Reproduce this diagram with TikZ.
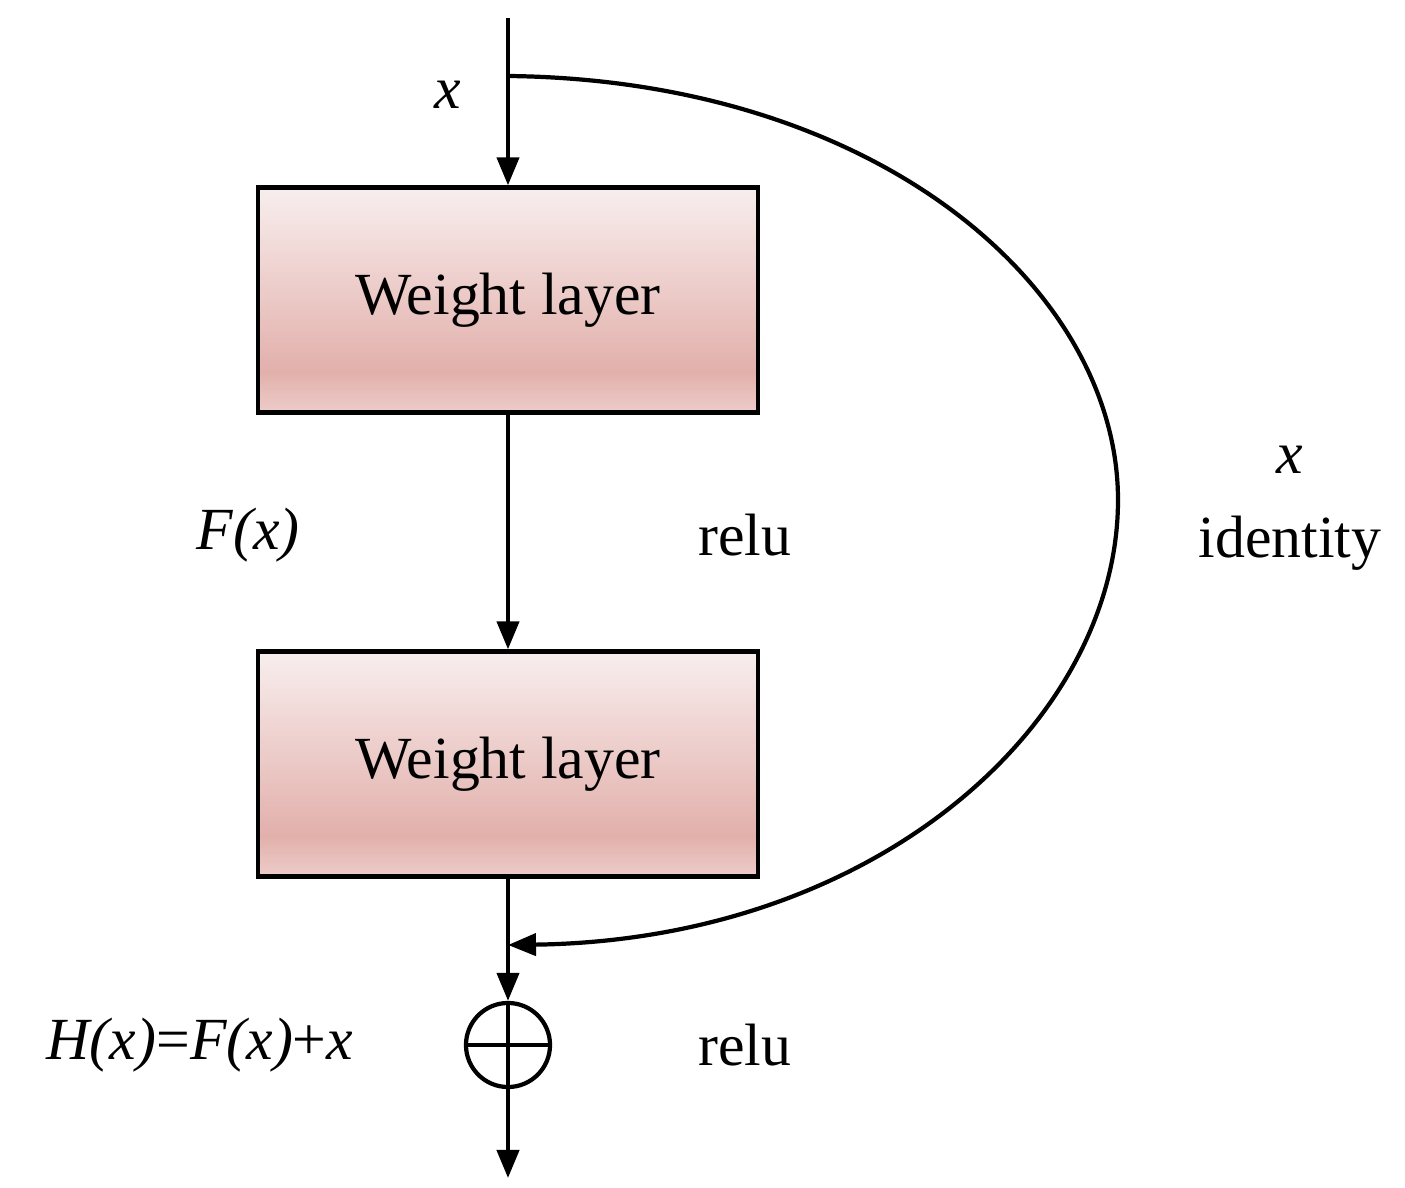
\documentclass[tikz,border=0pt]{standalone}
\usepackage{fontspec}
\setmainfont{Liberation Serif}
\usetikzlibrary{arrows.meta}
\definecolor{cA}{HTML}{EDCDCA}
\definecolor{cB}{HTML}{E2B0AB}
\definecolor{cC}{HTML}{F8EEEE}
\pgfdeclareverticalshading{wl}{100bp}{color(0bp)=(cA); color(25bp)=(cA); color(34bp)=(cB); color(75bp)=(cC); color(100bp)=(cC)}
\begin{document}
\begin{tikzpicture}[x=0.01cm,y=-0.01cm,
  box/.style={draw,line width=1.2pt,minimum width=4.99cm,minimum height=2.25cm,shading=wl,font=\fontsize{17}{20}\selectfont,inner sep=0pt},
  lab/.style={font=\fontsize{17}{20}\selectfont,inner sep=0pt},
  arr/.style={line width=1.2pt,-{Triangle[length=0.28cm,width=0.22cm]}},
  ln/.style={line width=1.2pt}]
\useasboundingbox (0,0) rectangle (1405,1188);
\node[box] (b1) at (508,300) {Weight layer};
\node[box] (b2) at (508,764) {Weight layer};
\node[draw,circle,line width=1.2pt,minimum size=0.84cm,inner sep=0pt] (s) at (508,1045) {};
\draw[ln] (s.north)--(s.south) (s.west)--(s.east);
\coordinate (top) at (508,18);
\coordinate (bot) at (508,1178);
\coordinate (sk) at (508,76);
\coordinate (m) at (508,945);
\draw[arr] (top)--(b1.north);
\draw[arr] (b1.south)--(b2.north);
\draw[arr] (b2.south)--(s.north);
\draw[arr] (s.south)--(bot);
\draw[arr] (sk) .. controls (880,80) and (1118,290) .. (1118,500) .. controls (1118,720) and (880,940) .. (m);
\node[lab] at (448,95) {\itshape x};
\node[lab] at (248,535) {\itshape F(x)};
\node[lab] at (745,535) {relu};
\node[lab] at (1290,460) {\itshape x};
\node[lab] at (1290,543) {identity};
\node[lab] at (200,1045) {\itshape H(x)\upshape=\itshape F(x)\upshape+\itshape x};
\node[lab] at (745,1045) {relu};
\end{tikzpicture}
\end{document}
